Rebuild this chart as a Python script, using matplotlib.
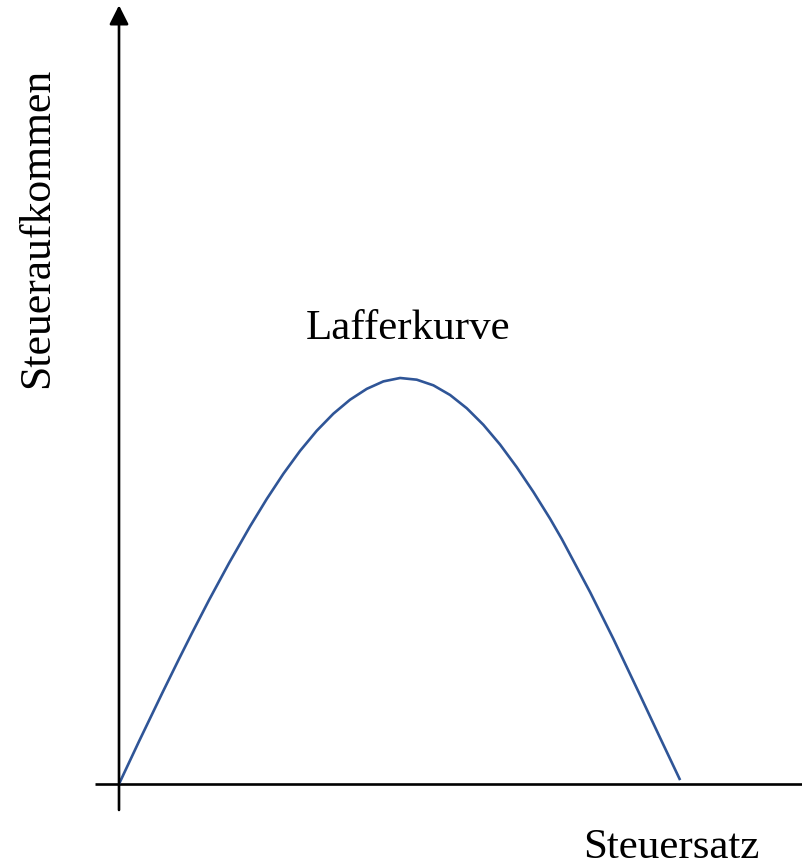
import matplotlib.pyplot as plt

# Steuersatz in %, Steueraufkommen relativ zum Maximum (=100)
steuersatz = [0, 3.56, 7.70, 10.68, 13.04, 16.01, 19.57, 23.31, 26.28, 29.24,
              32.21, 35.18, 38.13, 41.10, 44.07, 47.03, 50.0, 52.97, 55.93,
              58.90, 61.87, 64.82, 67.79, 70.76, 73.72, 76.69, 78.77, 83.81,
              87.95, 92.70, 96.26, 99.82]
aufkommen = [0, 10.50, 22.42, 30.82, 37.33, 45.29, 54.40, 63.45, 70.19, 76.41,
             82.05, 87.01, 91.20, 94.65, 97.32, 99.16, 100.0, 99.58, 98.19,
             95.81, 92.54, 88.47, 83.60, 78.02, 71.92, 65.33, 60.34, 47.24,
             35.73, 21.86, 11.36, 0.96]

kurven_name = 'Lafferkurve'
x_label = 'Steuersatz'
y_label = 'Steueraufkommen'

plt.rcParams['font.family'] = 'Liberation Serif'

fig = plt.figure(figsize=(8.02, 8.66), dpi=100)
ax = fig.add_axes([0, 0, 1, 1])
ax.set_xlim(-21.17, 121.5)
ax.set_ylim(-20.2, 193.1)
ax.axis('off')

# Achsen
ax.plot([-4.27, 121.5], [0, 0], color='black', lw=1.9, solid_capstyle='butt')
ax.annotate('', xy=(0, 191.8), xytext=(0, -6.4),
            arrowprops=dict(arrowstyle='-|>,head_length=1.15,head_width=0.58',
                            lw=1.9, color='black', shrinkA=0, shrinkB=0))

# Kurve
ax.plot(steuersatz, aufkommen, color='#2F5597', lw=1.9,
        solid_joinstyle='round', solid_capstyle='butt')

# Beschriftungen
ax.text(51.4, 112.1, kurven_name, fontsize=31, ha='center', va='center')
ax.text(82.6, -18.2, x_label, fontsize=31, ha='left', va='baseline')
ax.text(-14.6, 137, y_label, fontsize=31.5, rotation=90,
        ha='center', va='center')

fig.savefig('out.png', dpi=100)
